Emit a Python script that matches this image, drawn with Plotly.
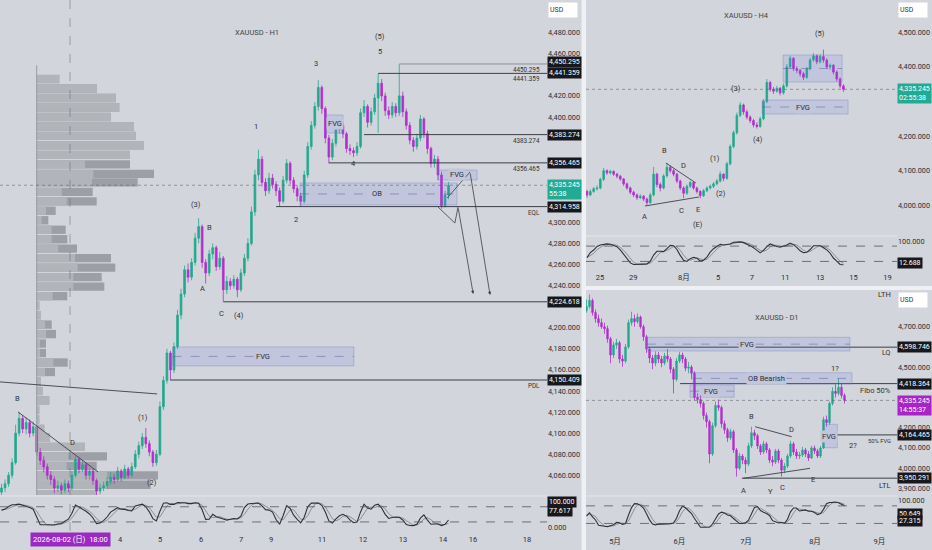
import numpy as np
import pandas as pd
import plotly.graph_objects as go

# ---------------- DATA ----------------
# H1 panel (2-hour candles)
h1_open_first = 4044
h1_close = [4048,4052,4060,4072,4100,4114,4104,4110,4100,4106,
            4082,4074,4068,4060,4056,4048,4050,4046,4052,4048,
            4060,4075,4066,4070,4060,4064,4055,4045,4048,4050,
            4054,4058,4056,4064,4058,4066,4060,4068,4080,4088,
            4096,4090,4082,4072,4080,4125,4150,4176,4160,4182,
            4212,4232,4255,4248,4262,4285,4296,4262,4252,4270,
            4276,4258,4266,4236,4244,4240,4246,4236,4252,4266,
            4280,4310,4345,4360,4338,4330,4342,4336,4330,4320,
            4340,4356,4340,4332,4325,4320,4345,4372,4392,4410,
            4428,4408,4380,4362,4375,4388,4392,4384,4370,4368,
            4366,4372,4404,4410,4395,4405,4418,4432,4420,4406,
            4402,4410,4404,4420,4405,4392,4378,4372,4380,4398,
            4384,4370,4356,4360,4345,4316,4326,4335.245]
h1_high = [4052,4056,4063,4076,4108,4120,4117,4115,4113,4111,
           4108,4086,4078,4071,4064,4059,4055,4053,4056,4055,
           4064,4078,4077,4074,4072,4067,4066,4057,4052,4054,
           4058,4063,4061,4068,4066,4070,4068,4072,4084,4092,
           4100,4105,4093,4084,4084,4130,4154,4180,4178,4186,
           4217,4237,4259,4261,4266,4290,4304,4298,4265,4274,
           4280,4278,4272,4268,4249,4247,4250,4248,4256,4270,
           4285,4315,4350,4369,4363,4342,4347,4346,4339,4333,
           4344,4360,4358,4343,4335,4328,4349,4376,4396,4414,
           4435,4430,4410,4383,4379,4392,4398,4395,4386,4374,
           4371,4376,4408,4416,4412,4409,4422,4441,4436,4423,
           4410,4414,4413,4450,4424,4408,4395,4381,4384,4402,
           4400,4387,4372,4364,4363,4348,4330,4338]
h1_low = [4040,4044,4049,4057,4070,4097,4100,4099,4096,4097,
          4078,4070,4063,4056,4051,4043,4044,4042,4043,4044,
          4046,4058,4062,4063,4056,4056,4051,4041,4042,4045,
          4047,4051,4052,4054,4054,4056,4057,4058,4066,4076,
          4085,4086,4078,4068,4069,4078,4122,4147,4150,4157,
          4180,4208,4229,4243,4245,4259,4280,4257,4242,4249,
          4265,4254,4255,4225,4232,4236,4237,4229,4234,4249,
          4263,4278,4306,4340,4334,4325,4327,4332,4325,4315,
          4318,4337,4336,4328,4320,4315,4318,4342,4369,4389,
          4406,4403,4375,4356,4359,4372,4384,4380,4366,4364,
          4362,4363,4370,4400,4390,4392,4402,4385,4415,4401,
          4398,4399,4400,4401,4400,4388,4374,4367,4369,4377,
          4380,4365,4352,4352,4340,4313,4314,4322]
h1_price_ticks = [4060, 4080, 4100, 4120, 4140, 4160, 4180, 4200, 4240, 4260, 4280, 4300,
                  4400, 4420, 4460, 4480]
h1_tick_pos = [33.66, 45.03, 56.68, 68.04, 76.56, 91.05, 102.7, 114.06, 125.43, 133.95, 149.29]
h1_tick_text = ["4", "5", "6", "7", "9", "11", "12", "13", "14", "16", "18"]
h1_crosshair_bar = 19.46
h1_crosshair_text = "2026-08-02 (日)  18:00"
h1_levels = [4450.295, 4441.359, 4383.274, 4356.465, 4314.958, 4224.618, 4150.409]
h1_level_from = [113, 107, 103, 93, 78, 63, 48]
h1_level_notes = [(4450.295, "4450.295"), (4441.359, "4441.359"), (4383.274, "4383.274"),
                  (4356.465, "4356.465"), (4314.958, "EQL"), (4150.409, "PDL")]
h1_last = 4335.245
h1_timer = "55:38"
h1_osc_tags = [(100.0, "100.000"), (77.617, "77.617")]
h1_waves = [("(5)", 107.5, 4475.9), ("5", 107.5, 4462.6), ("3", 89.4, 4451.2), ("1", 72.3, 4390.5),
            ("(3)", 55.3, 4317.4), ("B", 59.2, 4294.7), ("2", 83.7, 4302.3), ("4", 100.1, 4355.4),
            ("A", 57.2, 4237.7), ("C", 62.4, 4213.1), ("(4)", 67.5, 4212.1), ("B", 4.4, 4132.4),
            ("D", 20.3, 4090.7), ("(1)", 40.2, 4115.3), ("(2)", 42.8, 4052.7)]
# zones: (label, bar0, bar1, low, high, label_bar, dashed_mid)
h1_zones = [("OB", 84.8, 129.4, 4316.5, 4337.4, 106.7, True),
            ("FVG", 92.2, 97.0, 4384.8, 4401.9, 94.6, False),
            ("FVG", 124.0, 135.1, 4340.2, 4349.7, 129.5, False),
            ("FVG", 48.6, 100.1, 4163.8, 4181.8, 74.3, True)]
h1_trend = [((-0.43, 4148.6), (44.2, 4137.2)), ((4.7, 4120.1), (27.4, 4063.2))]
h1_path_a = [(124.0, 4314.6), (128.8, 4299.4), (129.7, 4314.6), (134.0, 4232.1)]
h1_path_b = [(126.6, 4323.1), (133.1, 4347.8), (138.8, 4231.1)]

# volume profile (left of H1)
vp_price = [4436,4427,4418,4409,4400,4391,4382,4373,4364,4355,
            4346,4338,4329,4320,4311,4302,4293,4284,4275,4266,
            4257,4248,4239,4230,4221,4212,4203,4194,4185,4176,
            4167,4158,4149,4140,4131,4122,4113,4104,4096,4087,
            4078,4069,4060,4051,4042]
vp_light = [22.6,60,79,82.6,74,97.3,99,107.3,93.3,48.3,
            56.6,55.3,25,30,9.3,5,15,15,21.6,38.3,
            41,36.6,36.6,16,2.6,4.3,8.3,9.3,3.3,3.3,
            16.6,8.3,4.3,5.8,12.6,2.6,2.6,7.6,13.3,48.3,
            31.7,30,70.3,70.3,60]
vp_total = [22.6,60,79,82.6,74,97.3,99,107.3,93.3,93.3,
            117.3,101,56,60,19,11.6,29,30.6,40.3,74.3,
            78.6,65,67.6,30.6,2.6,4.3,15,19.3,9.3,9.3,
            31,18.3,4.3,5.8,12.6,2.6,2.6,7.6,13.3,48.3,
            70.3,60,121.3,114,60]

# H4 panel
h4_open_first = 4040
h4_close = [4030,4040,4048,4050,4075,4100,4094,4098,4090,4084,
            4076,4062,4050,4038,4030,4022,4026,4018,4008,4030,
            4090,4060,4050,4085,4110,4100,4090,4070,4050,4035,
            4055,4066,4050,4040,4028,4042,4050,4055,4062,4070,
            4090,4078,4120,4170,4210,4260,4290,4270,4255,4245,
            4232,4228,4250,4300,4355,4335,4330,4338,4325,4345,
            4400,4425,4395,4390,4380,4370,4395,4420,4432,4415,
            4430,4420,4400,4405,4385,4365,4345,4335.245]
h4_high = [4045,4046,4053,4058,4080,4108,4104,4103,4101,4094,
           4088,4079,4066,4054,4042,4034,4032,4030,4022,4036,
           4111,4094,4066,4090,4122,4115,4105,4094,4074,4055,
           4060,4071,4069,4054,4044,4047,4055,4060,4067,4076,
           4098,4093,4126,4176,4216,4268,4298,4294,4276,4260,
           4250,4240,4256,4306,4365,4360,4342,4345,4342,4352,
           4408,4432,4428,4402,4394,4386,4400,4426,4440,4436,
           4437,4450,4425,4410,4408,4390,4370,4350]
h4_low = [4022,4026,4036,4042,4046,4070,4088,4089,4085,4078,
          4071,4056,4045,4032,4024,4016,4018,4012,4001,4004,
          4026,4052,4040,4046,4080,4094,4084,4064,4044,4021,
          4030,4050,4045,4034,4020,4024,4038,4046,4050,4058,
          4066,4070,4074,4115,4165,4204,4255,4262,4248,4238,
          4225,4222,4224,4246,4295,4328,4322,4326,4318,4320,
          4340,4395,4388,4382,4372,4362,4365,4390,4415,4408,
          4410,4412,4394,4392,4378,4358,4338,4328]
h4_price_ticks = [4000, 4100, 4200, 4400, 4500]
h4_tick_pos = [3.9, 13.9, 29.1, 39.4, 49.5, 59.5, 70.0, 80.0, 90.2]
h4_tick_text = ["25", "29", "8月", "5", "7", "11", "13", "15", "19"]
h4_last = 4335.245
h4_timer = "02:55:38"
h4_osc_tag = (12.688, "12.688")
h4_waves = [("(5)", 70.0, 4498), ("(3)", 44.7, 4339), ("(4)", 51.4, 4188.8), ("(1)", 38.4, 4133.9),
            ("(2)", 40.2, 4032.8), ("B", 23.4, 4157), ("D", 29.1, 4116.5), ("A", 17.4, 3966.3),
            ("C", 28.5, 3983.6), ("E", 33.3, 3986.5), ("(E)", 33.3, 3946)]
h4_zones = [("", 58.9, 76.6, 4356.4, 4434.4, 67.0, True),
            ("FVG", 52.6, 78.4, 4263.9, 4304.4, 64.9, True)]
h4_trend = [((23.7, 4122.3), (32.7, 4064.5)), ((17.4, 3998), (33.6, 4024))]

# D1 panel
d1_open_first = 4780
d1_close = [4800,4830,4770,4740,4720,4700,4690,4640,4560,4610,
            4620,4540,4530,4600,4720,4740,4725,4748,4700,4650,
            4590,4545,4520,4560,4540,4520,4555,4540,4490,4440,
            4530,4560,4540,4495,4500,4470,4350,4340,4320,4260,
            4230,4070,4210,4310,4300,4220,4190,4150,4180,4090,
            4000,4060,4040,4020,4110,4175,4160,4110,4080,4120,
            4090,4040,4030,4085,4040,3990,4010,4060,4120,4080,
            4060,4065,4090,4070,4050,4100,4085,4060,4100,4240,
            4225,4320,4380,4370,4400,4360,4335.245]
d1_high = [4835,4860,4840,4785,4760,4740,4720,4705,4650,4625,
           4640,4630,4560,4615,4735,4774,4760,4765,4755,4710,
           4660,4600,4560,4578,4575,4555,4570,4590,4550,4500,
           4545,4575,4572,4550,4525,4510,4480,4370,4360,4330,
           4275,4240,4225,4330,4340,4310,4235,4200,4195,4190,
           4100,4075,4070,4055,4125,4205,4190,4170,4120,4135,
           4130,4100,4060,4095,4095,4050,4025,4070,4135,4130,
           4095,4080,4105,4100,4085,4110,4112,4095,4110,4255,
           4260,4330,4400,4415,4444,4420,4370]
d1_low = [4770,4790,4755,4720,4700,4690,4665,4620,4519,4545,
          4590,4520,4502,4520,4590,4705,4700,4715,4690,4630,
          4570,4520,4490,4505,4520,4500,4510,4525,4470,4370,
          4430,4520,4520,4480,4470,4440,4335,4320,4300,4240,
          4200,4024,4060,4200,4285,4200,4170,4130,4140,4075,
          3958,3990,4020,3975,4010,4100,4140,4095,4065,4070,
          4075,4025,4010,4020,4025,3958,3975,4000,4050,4065,
          4045,4045,4055,4055,4035,4045,4070,4050,4050,4095,
          4205,4215,4310,4350,4360,4345,4320]
d1_price_ticks = [3900, 4000, 4100, 4200, 4500, 4700]
d1_tick_pos = [9.5, 30.93, 53.17, 76.17, 97.6]
d1_tick_text = ["5月", "6月", "7月", "8月", "9月"]
d1_levels = [4598.746, 4418.364, 4164.465, 3950.291]
d1_level_from = [20.5, 31.2, 83.5, 51.8]
d1_last = 4335.245
d1_timer = "14:55:37"
d1_osc_tags = [(50.649, "50.649"), (27.315, "27.315")]
d1_waves = [("B", 55.1, 4254.5), ("D", 68.4, 4193.6), ("A", 52.2, 3891.7), ("Y", 61.2, 3886.8),
            ("C", 65.2, 3906.5), ("E", 75.4, 3946), ("1?", 82.8, 4495.6), ("2?", 88.8, 4114.5)]
d1_side_notes = [("LTH", 4857, 7.5), ("LQ", 4569.8, 7), ("Fibo 50%", 4386.7, 7.5),
                 ("50% FVG", 4134, 5.8), ("LTL", 3916.5, 7.5)]
d1_zones = [("FVG", 20.1, 87.8, 4579.8, 4647.6, 53.5, True),
            ("OB Bearish", 35.5, 88.5, 4416.4, 4472.3, 60.1, True),
            ("FVG", 34.5, 49.2, 4350.7, 4411.5, 41.5, True),
            ("FVG", 78.9, 83.6, 4101.0, 4216.9, 80.8, False)]
d1_trend = [((56.2, 4205), (68.4, 4155.5)), ((52.3, 3949.6), (74.5, 3999))]

# ---------------- STYLE ----------------
W, H = 932, 550
BG = "#d2d5db"
UP = "#22a88d"
DN = "#b12fcb"
INK = "#2a2e39"
LINE = "#3c3f47"
ZFILL = "rgba(100,115,230,0.15)"
ZLINE = "rgba(110,120,200,0.45)"
ZTXTBG = "#c1c6dd"
FONT = "Roboto, 'Noto Sans CJK JP', sans-serif"


def py(px):
    return 1 - px / H


def pxx(px):
    return px / W


XL = [0, pxx(547)]
XR = [pxx(586), pxx(897)]
H1_XR = [-0.43, 154.97]
H4_XR = [-0.3, 93.09]
D1_XR = [-0.17, 103.5]


def opens(first, close):
    return [first] + close[:-1]


def stoch(h, l, c, n, ks, ds):
    hs, ls, cs = pd.Series(h, dtype=float), pd.Series(l, dtype=float), pd.Series(c, dtype=float)
    hh = hs.rolling(n, min_periods=1).max()
    ll = ls.rolling(n, min_periods=1).min()
    raw = 100 * (cs - ll) / (hh - ll).replace(0, np.nan)
    k = raw.fillna(50).rolling(ks, min_periods=1).mean()
    d = k.rolling(ds, min_periods=1).mean()
    return k.tolist(), d.tolist()


def candles(o, h, l, c, xa, ya):
    return go.Candlestick(
        x=list(range(len(c))), open=o, high=h, low=l, close=c, xaxis=xa, yaxis=ya,
        increasing=dict(line=dict(color=UP, width=0.8), fillcolor=UP),
        decreasing=dict(line=dict(color=DN, width=0.8), fillcolor=DN),
        whiskerwidth=0, hoverinfo="skip", showlegend=False)


fig = go.Figure()
shapes = []
ann = []


def text(x, y, s, xref, yref, size=7.5, color="#333", xanchor="center", **kw):
    ann.append(dict(x=x, y=y, xref=xref, yref=yref, text=s, showarrow=False,
                    font=dict(size=size, color=color, family=FONT),
                    xanchor=xanchor, yanchor="middle", **kw))


def tag(yv, s, yref, xpaper, bg="#16181d", fg="white", yshift=0):
    ann.append(dict(x=xpaper, y=yv, xref="paper", yref=yref, text=s, showarrow=False,
                    bgcolor=bg, font=dict(size=7, color=fg, family=FONT),
                    xanchor="left", yanchor="middle", borderpad=1, yshift=yshift, align="left"))


def seg(x0, y0, x1, y1, xref, yref, color=LINE, width=1, dash="solid"):
    shapes.append(dict(type="line", x0=x0, y0=y0, x1=x1, y1=y1, xref=xref, yref=yref,
                       line=dict(color=color, width=width, dash=dash), layer="above"))


def zone(z, xref, yref, size=7.5):
    lab, b0, b1, lo, hi, lb, mid = z
    shapes.append(dict(type="rect", x0=b0, x1=b1, y0=lo, y1=hi, xref=xref, yref=yref,
                       fillcolor=ZFILL, line=dict(color=ZLINE, width=0.8), layer="above"))
    if mid:
        seg(b0, (lo + hi) / 2, b1, (lo + hi) / 2, xref, yref, color="rgba(80,90,160,0.6)",
            width=0.8, dash="dash")
    if lab:
        text(lb, (lo + hi) / 2, lab, xref, yref, size=size, color="#2a2e39", bgcolor=ZTXTBG)


# ---------------- H1 ----------------
fig.add_trace(go.Bar(orientation="h", y=vp_price, x=vp_total, width=7.9, xaxis="x", yaxis="y",
                     marker=dict(color="#9c9fa5", line=dict(width=0)), hoverinfo="skip"))
fig.add_trace(go.Bar(orientation="h", y=vp_price, x=vp_light, width=7.9, xaxis="x", yaxis="y",
                     marker=dict(color="#b1b4b9", line=dict(width=0)), hoverinfo="skip"))
shapes.append(dict(type="line", x0=0, x1=0, y0=4449, y1=4041.3, xref="x", yref="y",
                   line=dict(color="#9a9da2", width=1), layer="above"))

h1_open = opens(h1_open_first, h1_close)
fig.add_trace(candles(h1_open, h1_high, h1_low, h1_close, "x2", "y"))
k1, d1s = stoch(h1_high, h1_low, h1_close, 6, 2, 3)
xs1 = list(range(len(h1_close)))
fig.add_trace(go.Scatter(x=xs1, y=d1s, xaxis="x3", yaxis="y2", mode="lines",
                         line=dict(color="#7a7d83", width=0.8), hoverinfo="skip"))
fig.add_trace(go.Scatter(x=xs1, y=k1, xaxis="x3", yaxis="y2", mode="lines",
                         line=dict(color="#2f3136", width=1.1), hoverinfo="skip"))

for lv, b0 in zip(h1_levels, h1_level_from):
    col = "#8c8f96" if lv == h1_levels[0] else LINE
    seg(b0, lv, H1_XR[1], lv, "x2", "y", color=col, width=1)
for (a, b) in h1_trend:
    seg(a[0], a[1], b[0], b[1], "x2", "y", width=0.9)
for z in h1_zones:
    zone(z, "x2", "y")
for pth in (h1_path_a, h1_path_b):
    for p0, p1 in zip(pth[:-2], pth[1:-1]):
        seg(p0[0], p0[1], p1[0], p1[1], "x2", "y", width=0.8)
    ann.append(dict(x=pth[-1][0], y=pth[-1][1], ax=pth[-2][0], ay=pth[-2][1], xref="x2", yref="y",
                    axref="x2", ayref="y", showarrow=True, arrowhead=2, arrowsize=0.8,
                    arrowwidth=0.8, arrowcolor=LINE, text=""))
for s, b, p in h1_waves:
    text(b, p, s, "x2", "y")
for lv, s in h1_level_notes:
    text(153.6, lv, s, "x2", "y", size=6.3, color="#333", xanchor="right", yshift=-6)
# last price line
shapes.append(dict(type="line", x0=0, x1=1, y0=h1_last, y1=h1_last, xref="x2 domain", yref="y",
                   line=dict(color="rgba(90,95,105,0.7)", width=0.8, dash="dot"), layer="above"))
# crosshair
shapes.append(dict(type="line", x0=h1_crosshair_bar, x1=h1_crosshair_bar, y0=py(531), y1=1,
                   xref="x2", yref="paper", line=dict(color="rgba(90,95,105,0.6)", width=0.8, dash="dash"),
                   layer="above"))
# osc levels
for lvv in (80, 20):
    shapes.append(dict(type="line", x0=0, x1=1, y0=lvv, y1=lvv, xref="x3 domain", yref="y2",
                       line=dict(color="#555", width=0.8, dash="dash"), layer="above"))
# price tags
for i, lv in enumerate(h1_levels):
    tag(lv, f"{lv:,.3f}", "y", XL[1], yshift=2 if i == 0 else 0)
tag(h1_last, f"{h1_last:,.3f}<br>{h1_timer}", "y", XL[1], bg="#22ab94", yshift=-4)
for v, s in h1_osc_tags:
    tag(v, s, "y2", XL[1], yshift=(0 if v == 100 else -4))
text(pxx(257), py(32), "XAUUSD - H1", "paper", "paper", size=7.5, color="#444")
ann.append(dict(x=h1_crosshair_bar, y=py(539.5), xref="x3", yref="paper", text=h1_crosshair_text,
                showarrow=False, bgcolor="#9b2bc0", font=dict(size=7.5, color="white", family=FONT),
                borderpad=2, xanchor="center", yanchor="middle"))

# ---------------- H4 ----------------
h4_open = opens(h4_open_first, h4_close)
fig.add_trace(candles(h4_open, h4_high, h4_low, h4_close, "x4", "y3"))
k4, d4 = stoch(h4_high, h4_low, h4_close, 8, 3, 3)
xs4 = list(range(len(h4_close)))
fig.add_trace(go.Scatter(x=xs4, y=d4, xaxis="x5", yaxis="y4", mode="lines",
                         line=dict(color="#7a7d83", width=0.8), hoverinfo="skip"))
fig.add_trace(go.Scatter(x=xs4, y=k4, xaxis="x5", yaxis="y4", mode="lines",
                         line=dict(color="#2f3136", width=1.1), hoverinfo="skip"))
for z in h4_zones:
    zone(z, "x4", "y3")
for (a, b) in h4_trend:
    seg(a[0], a[1], b[0], b[1], "x4", "y3", width=0.9)
for s, b, p in h4_waves:
    text(b, p, s, "x4", "y3")
shapes.append(dict(type="line", x0=0, x1=1, y0=h4_last, y1=h4_last, xref="x4 domain", yref="y3",
                   line=dict(color="rgba(90,95,105,0.7)", width=0.8, dash="dot"), layer="above"))
for lvv in (80, 20):
    shapes.append(dict(type="line", x0=0, x1=1, y0=lvv, y1=lvv, xref="x5 domain", yref="y4",
                       line=dict(color="#555", width=0.8, dash="dash"), layer="above"))
tag(h4_last, f"{h4_last:,.3f}<br>{h4_timer}", "y3", XR[1], bg="#22ab94", yshift=-4)
tag(h4_osc_tag[0], h4_osc_tag[1], "y4", XR[1])
text(pxx(746), py(16), "XAUUSD - H4", "paper", "paper", size=7.5, color="#444")

# ---------------- D1 ----------------
d1_open = opens(d1_open_first, d1_close)
fig.add_trace(candles(d1_open, d1_high, d1_low, d1_close, "x6", "y5"))
k6, d6 = stoch(d1_high, d1_low, d1_close, 9, 3, 3)
xs6 = list(range(len(d1_close)))
fig.add_trace(go.Scatter(x=xs6, y=d6, xaxis="x7", yaxis="y6", mode="lines",
                         line=dict(color="#7a7d83", width=0.8), hoverinfo="skip"))
fig.add_trace(go.Scatter(x=xs6, y=k6, xaxis="x7", yaxis="y6", mode="lines",
                         line=dict(color="#2f3136", width=1.1), hoverinfo="skip"))
for lv, b0 in zip(d1_levels, d1_level_from):
    seg(b0, lv, D1_XR[1], lv, "x6", "y5", width=1)
for z in d1_zones:
    zone(z, "x6", "y5")
for (a, b) in d1_trend:
    seg(a[0], a[1], b[0], b[1], "x6", "y5", width=0.9)
for s, b, p in d1_waves:
    text(b, p, s, "x6", "y5")
for s, p, sz in d1_side_notes:
    text(102.2, p, s, "x6", "y5", size=sz, xanchor="right")
shapes.append(dict(type="line", x0=0, x1=1, y0=d1_last, y1=d1_last, xref="x6 domain", yref="y5",
                   line=dict(color="rgba(90,95,105,0.7)", width=0.8, dash="dot"), layer="above"))
for lvv in (80, 20):
    shapes.append(dict(type="line", x0=0, x1=1, y0=lvv, y1=lvv, xref="x7 domain", yref="y6",
                       line=dict(color="#555", width=0.8, dash="dash"), layer="above"))
for lv in d1_levels:
    tag(lv, f"{lv:,.3f}", "y5", XR[1])
tag(d1_last, f"{d1_last:,.3f}<br>{d1_timer}", "y5", XR[1], bg="#a625c4", yshift=-5)
for v, s in d1_osc_tags:
    tag(v, s, "y6", XR[1])
text(pxx(777), py(317), "XAUUSD - D1", "paper", "paper", size=7.5, color="#444")

# ---------------- frame pieces ----------------
for xp, yp in ((548, 10.5), (898, 10.5), (898, 299.5)):
    ann.append(dict(x=pxx(xp), y=py(yp), xref="paper", yref="paper", text="USD", showarrow=False,
                    bgcolor="white", font=dict(size=7, color="#333", family=FONT), xanchor="left",
                    yanchor="middle", width=26, height=12, align="left", borderpad=1))
# pane separators
for x0, x1, ypx in ((0, 547, 496), (586, 897, 236), (586, 897, 496)):
    shapes.append(dict(type="line", x0=pxx(x0), x1=pxx(x1), y0=py(ypx), y1=py(ypx), xref="paper",
                       yref="paper", line=dict(color="#e4e6eb", width=1), layer="above"))
shapes.append(dict(type="rect", x0=pxx(581.5), x1=pxx(586), y0=0, y1=1, xref="paper", yref="paper",
                   fillcolor="#eef0f4", line=dict(width=0), layer="above"))
shapes.append(dict(type="rect", x0=pxx(586), x1=1, y0=py(290), y1=py(286), xref="paper", yref="paper",
                   fillcolor="#eef0f4", line=dict(width=0), layer="above"))


def price_axis(domain, anchor, rng, vals, size=7.3):
    return dict(domain=domain, anchor=anchor, range=rng, side="right", tickvals=vals,
                ticktext=[f"{v:,.3f}" for v in vals], showgrid=False, zeroline=False, showline=False,
                ticks="", tickfont=dict(size=size, color=INK, family=FONT), fixedrange=True,
                automargin=False)


def hidden_x(domain, anchor, rng, overlay=None):
    d = dict(anchor=anchor, range=rng, visible=False, showgrid=False, zeroline=False,
             rangeslider=dict(visible=False), fixedrange=True, automargin=False)
    if overlay:
        d["overlaying"] = overlay
    else:
        d["domain"] = domain
    return d


def date_x(domain, anchor, rng, pos, txt, ticklen=0):
    return dict(domain=domain, anchor=anchor, range=rng, tickvals=pos, ticktext=txt, showgrid=False,
                zeroline=False, showline=False, ticks="outside", ticklen=ticklen, tickcolor=BG,
                tickfont=dict(size=7.5, color=INK, family=FONT), fixedrange=True, automargin=False)


def osc_axis(domain, anchor, rng, vals, labels):
    return dict(domain=domain, anchor=anchor, range=rng, side="right", tickvals=vals,
                ticktext=labels, showgrid=False, zeroline=False, ticks="",
                tickfont=dict(size=7.3, color=INK, family=FONT), fixedrange=True, automargin=False)


fig.update_layout(
    template="none", width=W, height=H, margin=dict(l=0, r=0, t=0, b=0),
    paper_bgcolor=BG, plot_bgcolor=BG, showlegend=False, barmode="overlay",
    font=dict(family=FONT, size=7.5, color="#333"),
    xaxis=dict(domain=XL, anchor="y", range=[-36.7, 510.3], visible=False, showgrid=False,
               zeroline=False, fixedrange=True, automargin=False),
    xaxis2=hidden_x(None, "y", H1_XR, overlay="x"),
    yaxis=price_axis([py(495), 1], "x", [4041.3, 4511.0], h1_price_ticks),
    xaxis3=date_x(XL, "y2", H1_XR, h1_tick_pos, h1_tick_text, ticklen=1),
    yaxis2=osc_axis([py(531), py(497)], "x3", [-15.8, 118.6], [0], ["0.000"]),
    xaxis4=hidden_x(XR, "y3", H4_XR),
    yaxis3=price_axis([py(235), 1], "x4", [3914.2, 4593.4], h4_price_ticks),
    xaxis5=date_x(XR, "y4", H4_XR, h4_tick_pos, h4_tick_text),
    yaxis4=osc_axis([py(270), py(237)], "x5", [-13.7, 115.7], [100], ["100.000"]),
    xaxis6=hidden_x(XR, "y5", D1_XR),
    yaxis5=price_axis([py(495), py(290)], "x6", [3867.0, 4881.7], d1_price_ticks),
    xaxis7=date_x(XR, "y6", D1_XR, d1_tick_pos, d1_tick_text, ticklen=4),
    yaxis6=osc_axis([py(530), py(497)], "x7", [-2.4, 110.2], [100], ["100.000"]),
    shapes=shapes, annotations=ann,
)

fig.write_html("out.html", config={"displayModeBar": False},
               post_script="document.body.style.margin='0';document.body.style.overflow='hidden';")
